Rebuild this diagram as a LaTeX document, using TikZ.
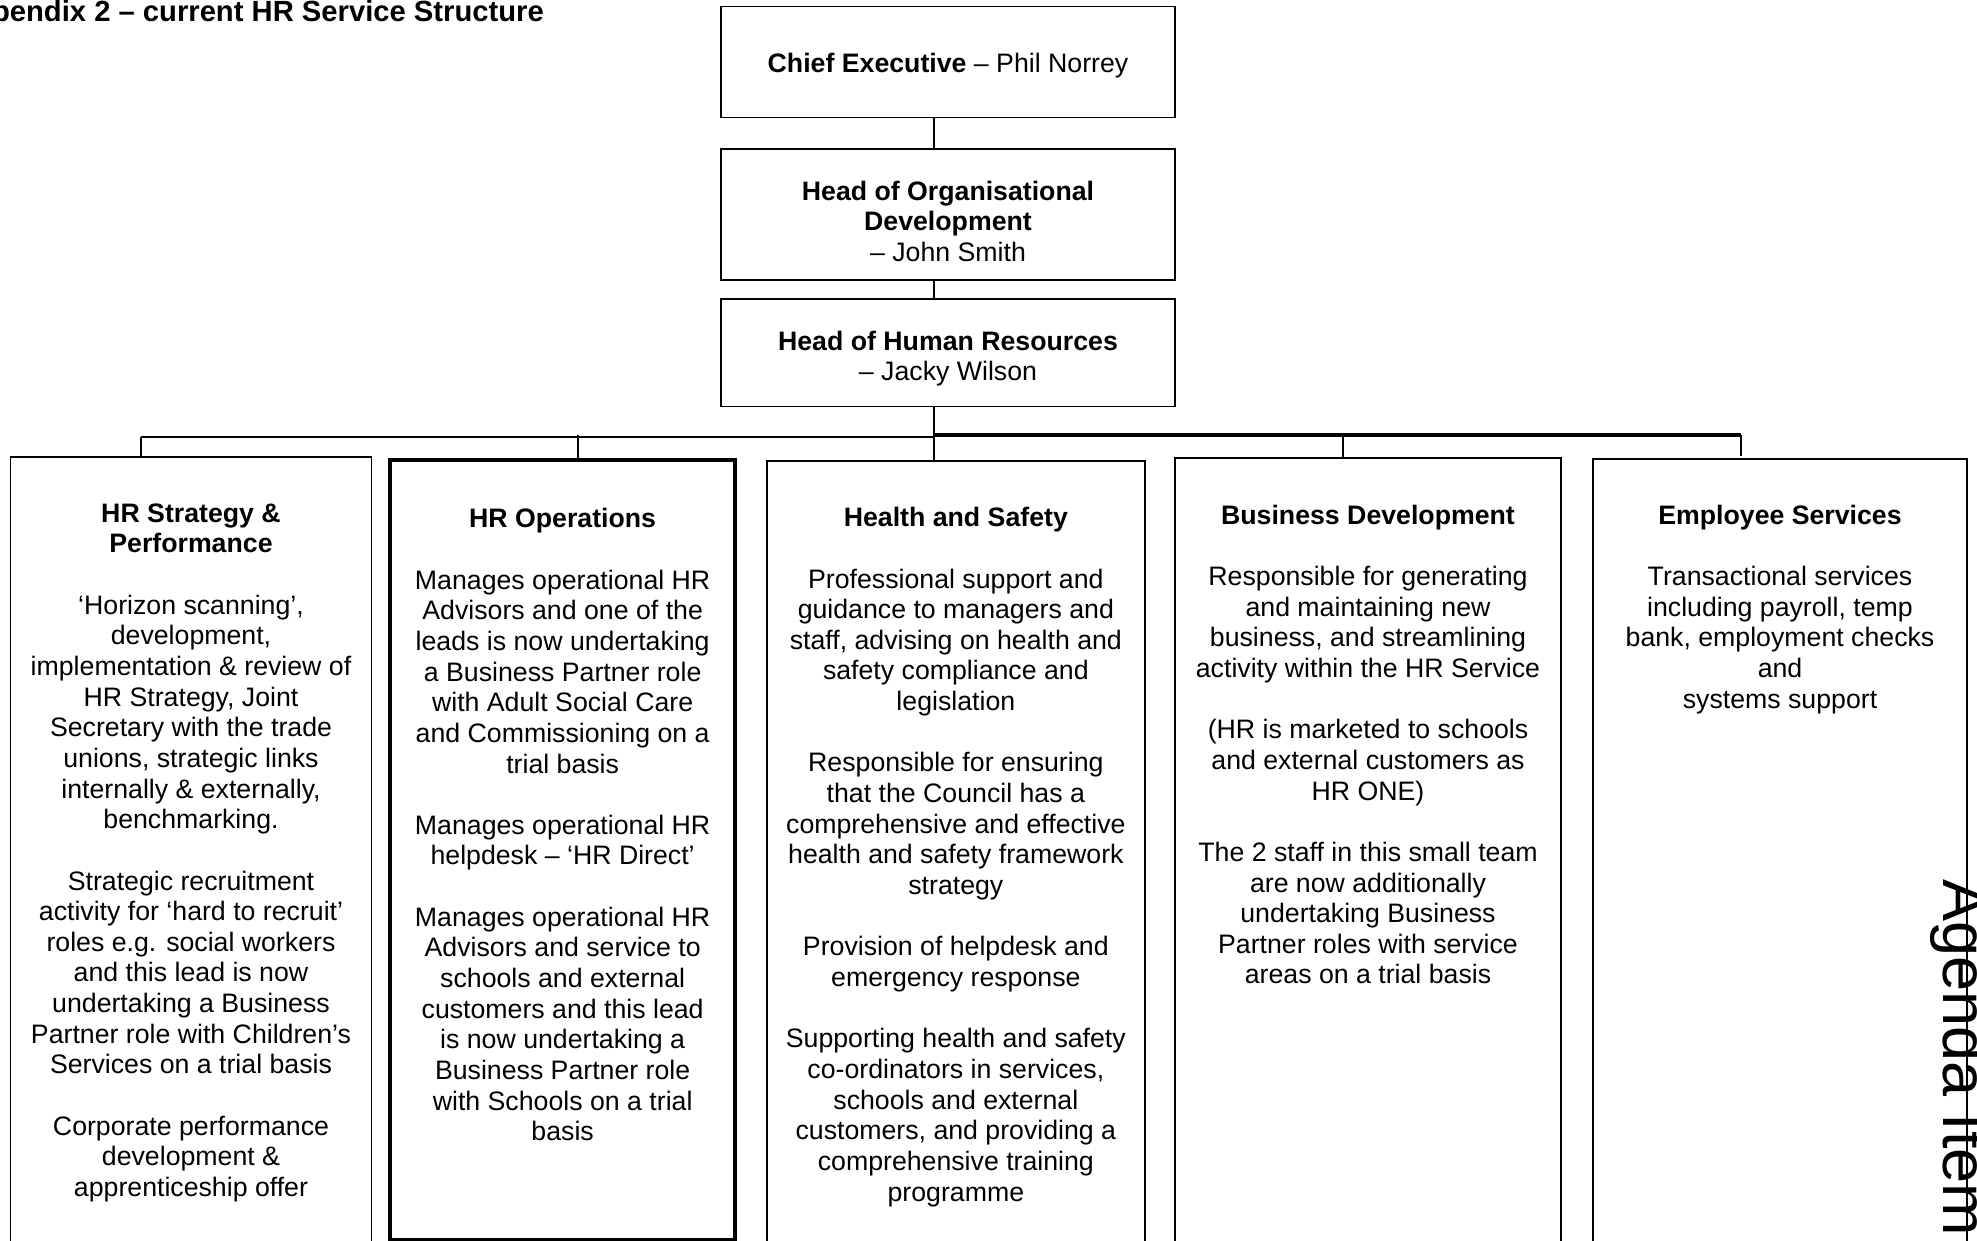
\documentclass[tikz,border=0pt]{standalone}
\usepackage{fontspec}
\setmainfont{Liberation Sans}
\begin{document}
\begin{tikzpicture}[x=1pt,y=-1pt,
  box/.style={draw,line width=1.8pt,inner sep=0pt,outer sep=0pt},
  thickbox/.style={draw,line width=4pt,inner sep=0pt,outer sep=0pt},
  conn/.style={line width=1.8pt},
  barthick/.style={line width=4pt},
  txt/.style={font=\fontsize{26.7}{30.65}\selectfont,align=center,anchor=north,inner sep=0pt},
  ]
\useasboundingbox (0,0) rectangle (1977,1241);
\clip (0,0) rectangle (1977,1241);

% title
\node[anchor=base east,inner sep=0pt,font=\fontsize{29.2}{34}\selectfont\bfseries] (title) at (544,22) {Appendix 2 – current HR Service Structure};

% top boxes
\node[box,minimum width=454.5pt,minimum height=111pt] (ceo) at (948,62) {};
\node[box,minimum width=454.5pt,minimum height=131pt] (hod) at (948,214.5) {};
\node[box,minimum width=454.5pt,minimum height=107.5pt] (hhr) at (948,352.75) {};

\node[anchor=base,inner sep=0pt,font=\fontsize{26.7}{30.65}\selectfont] (ceot) at (948,72.6) {\textbf{Chief Executive} – Phil Norrey};
\node[txt] (hodt) at (948,178) {\rule{0pt}{22pt}\textbf{Head of Organisational}\\\textbf{Development}\\– John Smith};
\node[txt] (hhrt) at (948,328) {\rule{0pt}{22pt}\textbf{Head of Human Resources}\\– Jacky Wilson};

% bottom boxes
\node[box,minimum width=361pt,minimum height=843pt] (b1) at (191,878.5) {};
\node[thickbox,minimum width=345.3pt,minimum height=779.7pt] (b2) at (562.65,850.15) {};
\node[box,minimum width=378.3pt,minimum height=839pt] (b3) at (955.85,880.5) {};
\node[box,minimum width=386pt,minimum height=842pt] (b4) at (1368,879) {};
\node[box,minimum width=374pt,minimum height=841pt] (b5) at (1780,879.5) {};

% connectors
\coordinate (spine) at (934,436.7);
\coordinate (spineT) at (934,435);
\coordinate (barL) at (141,436.7);
\coordinate (d2) at (577.7,435);
\coordinate (d4) at (1343,435);
\coordinate (barR) at (1741,435);

\draw[conn] (ceo.south -| spine) -- (hod.north -| spine);
\draw[conn] (hod.south -| spine) -- (hhr.north -| spine);
\draw[conn] (hhr.south -| spine) -- (b3.north -| spine);
\draw[conn] (barL) -- (spine);
\draw[barthick] (spineT) -- (barR);
\draw[conn] (barL) -- (b1.north -| barL);
\draw[conn] (d2) -- (b2.north -| d2);
\draw[conn] (d4) -- (b4.north -| d4);
\draw[conn] (barR) -- ([yshift=3pt]b5.north -| barR);

% texts in bottom boxes
\node[txt] (b1t) at (191,500) {\rule{0pt}{22pt}\textbf{HR Strategy \&}\\
\textbf{Performance}\\[30.65pt]
‘Horizon scanning’,\\
development,\\
implementation \& review of\\
HR Strategy, Joint\\
Secretary with the trade\\
unions, strategic links\\
internally \& externally,\\
benchmarking.\\[30.65pt]
Strategic recruitment\\
activity for ‘hard to recruit’\\
roles e.g. social workers\\
and this lead is now\\
undertaking a Business\\
Partner role with Children’s\\
Services on a trial basis\\[30.65pt]
Corporate performance\\
development \&\\
apprenticeship offer};

\node[txt] (b2t) at (562.65,505.6) {\rule{0pt}{22pt}\textbf{HR Operations}\\[30.65pt]
Manages operational HR\\
Advisors and one of the\\
leads is now undertaking\\
a Business Partner role\\
with Adult Social Care\\
and Commissioning on a\\
trial basis\\[30.65pt]
Manages operational HR\\
helpdesk – ‘HR Direct’\\[30.65pt]
Manages operational HR\\
Advisors and service to\\
schools and external\\
customers and this lead\\
is now undertaking a\\
Business Partner role\\
with Schools on a trial\\
basis};

\node[txt] (b3t) at (955.85,504.5) {\rule{0pt}{22pt}\textbf{Health and Safety}\\[30.65pt]
Professional support and\\
guidance to managers and\\
staff, advising on health and\\
safety compliance and\\
legislation\\[30.65pt]
Responsible for ensuring\\
that the Council has a\\
comprehensive and effective\\
health and safety framework\\
strategy\\[30.65pt]
Provision of helpdesk and\\
emergency response\\[30.65pt]
Supporting health and safety\\
co-ordinators in services,\\
schools and external\\
customers, and providing a\\
comprehensive training\\
programme};

\node[txt] (b4t) at (1368,502) {\rule{0pt}{22pt}\textbf{Business Development}\\[30.65pt]
Responsible for generating\\
and maintaining new\\
business, and streamlining\\
activity within the HR Service\\[30.65pt]
(HR is marketed to schools\\
and external customers as\\
HR ONE)\\[30.65pt]
The 2 staff in this small team\\
are now additionally\\
undertaking Business\\
Partner roles with service\\
areas on a trial basis};

\node[txt] (b5t) at (1780,502) {\rule{0pt}{22pt}\textbf{Employee Services}\\[30.65pt]
Transactional services\\
including payroll, temp\\
bank, employment checks\\
and\\
systems support};

% side label
\node[rotate=-90,anchor=base west,inner sep=0pt,font=\fontsize{63}{70}\selectfont] (agenda) at (1943,879) {Agenda Item};
\end{tikzpicture}
\end{document}
